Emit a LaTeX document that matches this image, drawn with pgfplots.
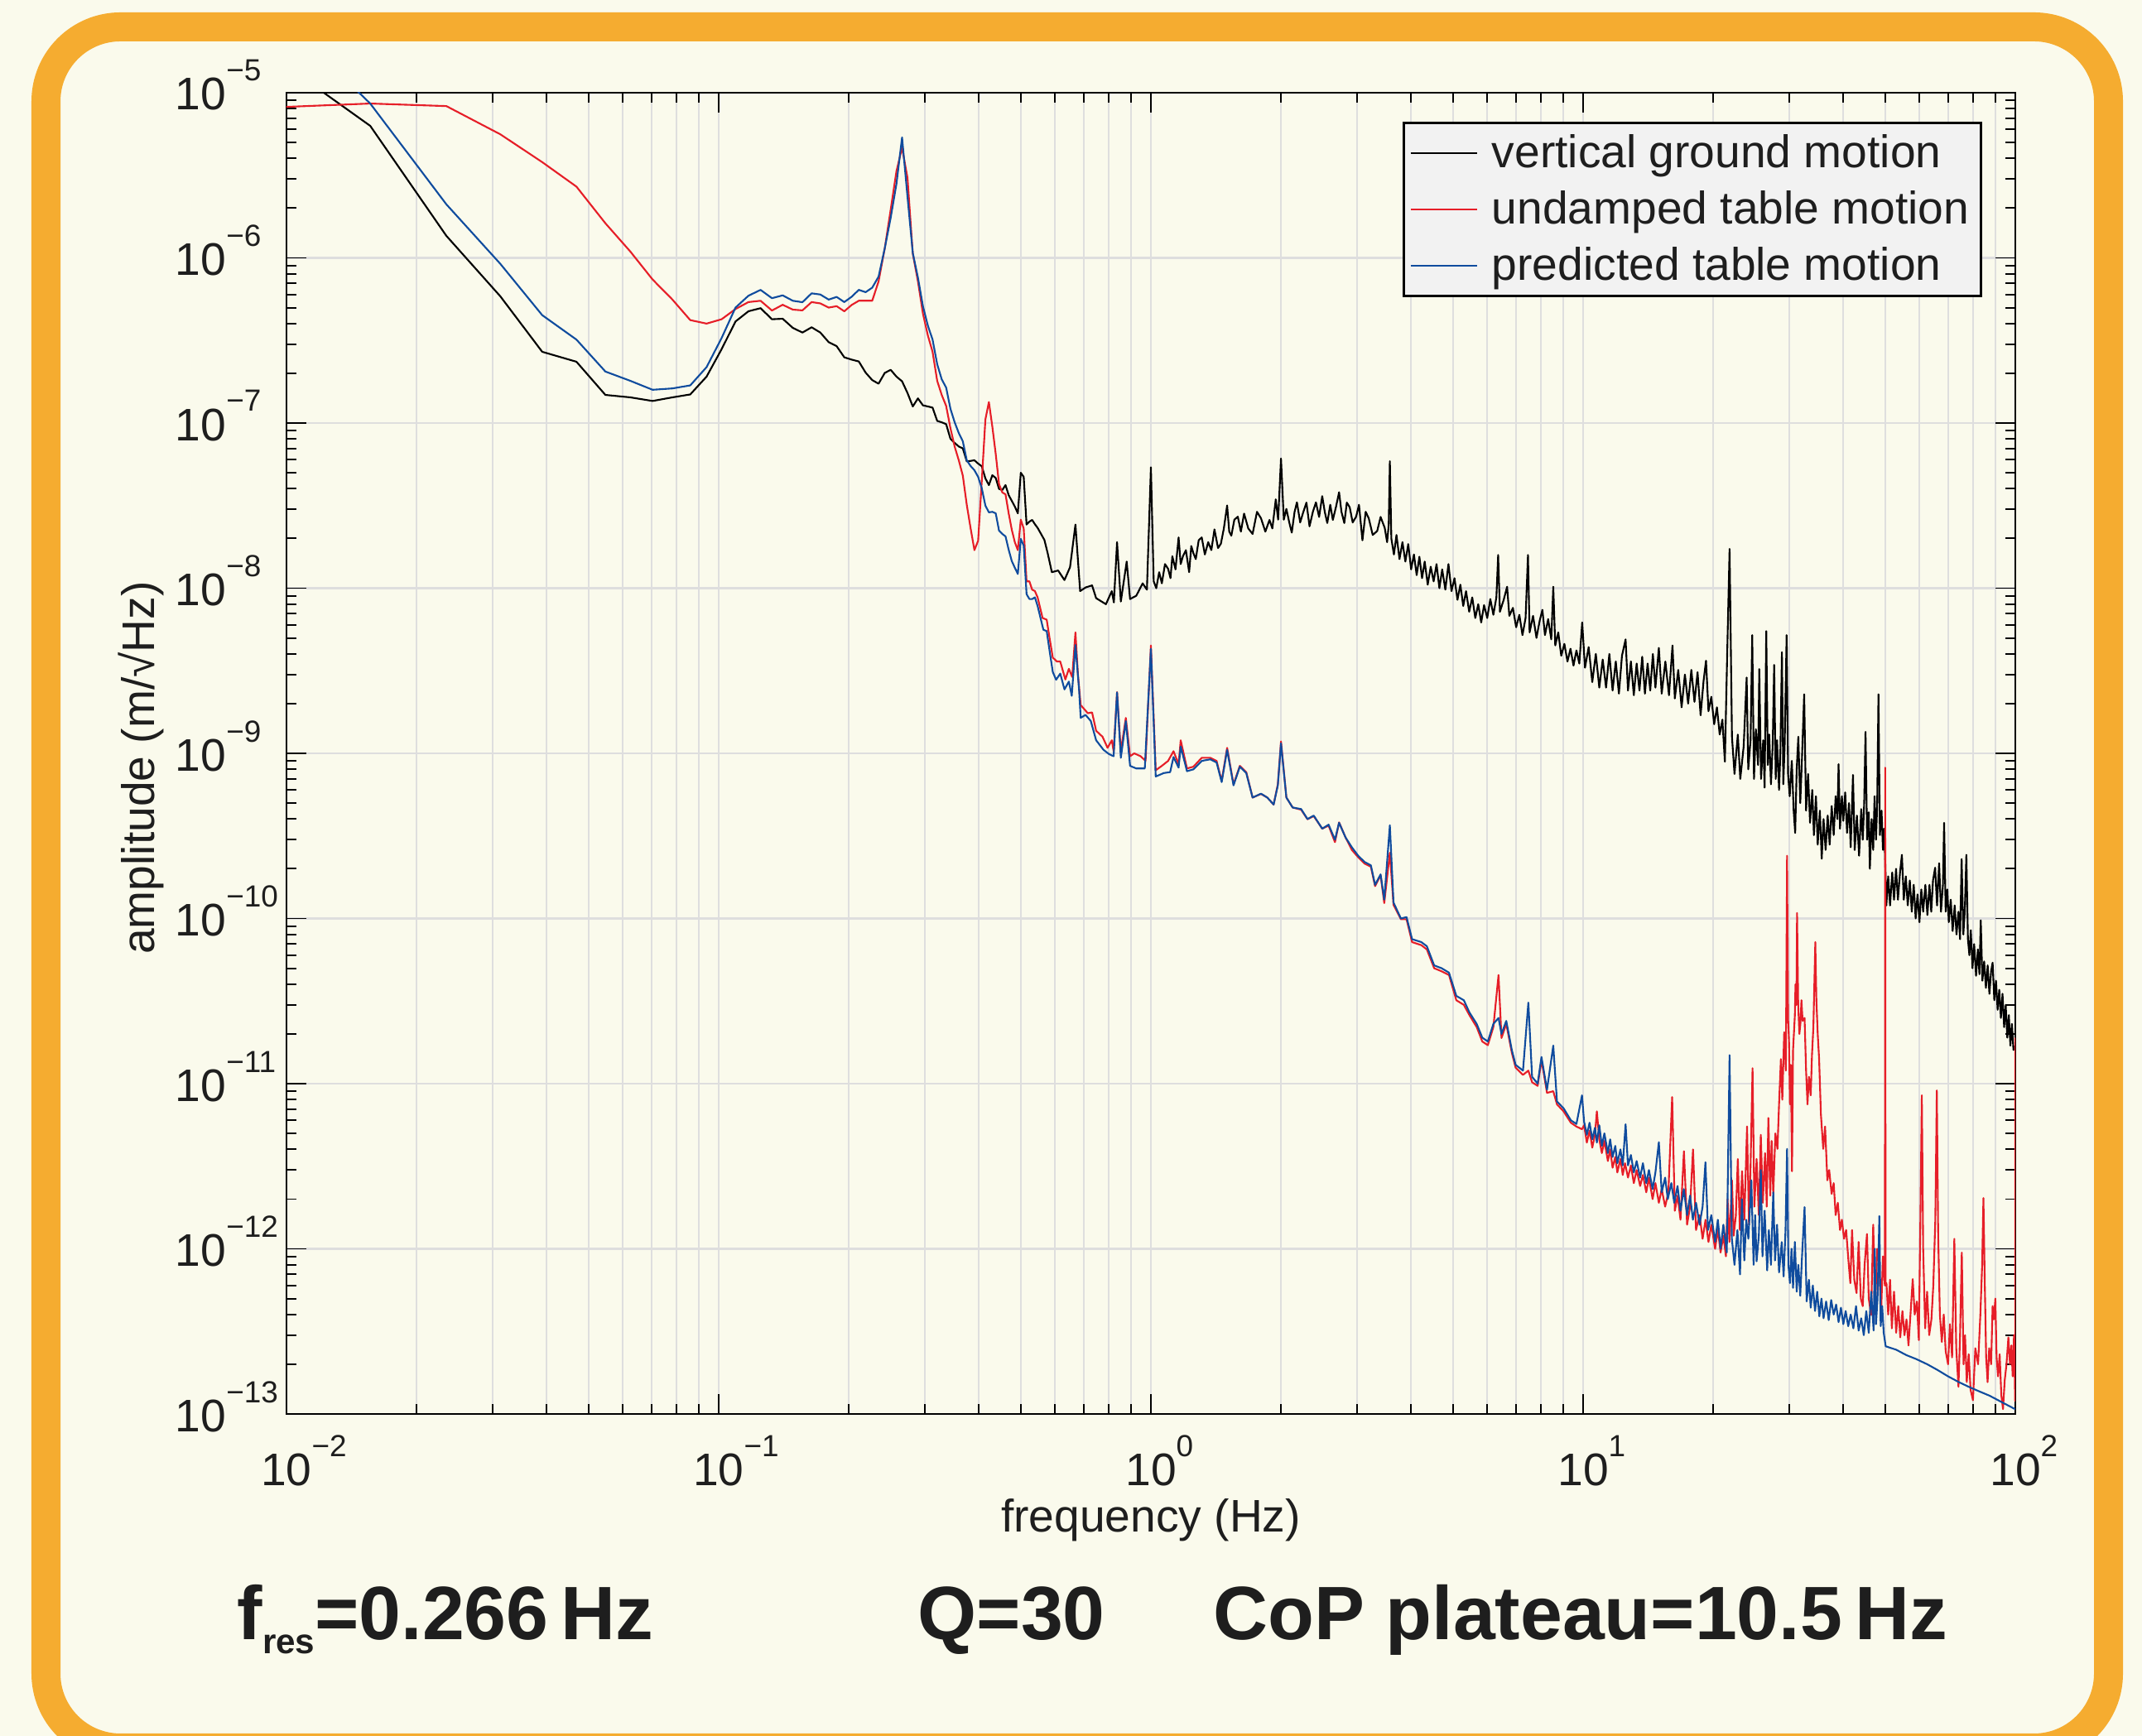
\documentclass[border=0pt]{standalone}
\usepackage{fontspec}
\setmainfont{Liberation Sans}
\usepackage{pgfplots}
\usepackage{pgfplotstable}
\pgfplotsset{compat=1.18}

\definecolor{bgcream}{RGB}{250,250,236}
\definecolor{frameorange}{RGB}{245,172,48}
\definecolor{gridgray}{RGB}{222,222,222}
\definecolor{legfill}{RGB}{242,242,242}
\definecolor{txt}{RGB}{30,30,30}
\definecolor{lred}{RGB}{230,30,40}
\definecolor{lblue}{RGB}{16,76,158}

\newcommand{\axfont}{\fontsize{15.7}{18}\selectfont}
\newcommand{\supfont}{\fontsize{10.5}{12}\selectfont}
\newcommand{\sx}[1]{\raisebox{0.35cm}{\supfont #1}}
\newcommand{\bigfont}{\fontsize{26}{30}\selectfont\bfseries}
\newcommand{\subfont}{\fontsize{12}{14}\selectfont\bfseries}

% vertical ground motion
\pgfplotstableread{
f A
0.0078125 2.3e-5
0.015625 6.3e-6
0.0234375 1.36e-6
0.03125 5.85e-7
0.0390625 2.70e-7
0.046875 2.35e-7
0.0546875 1.48e-7
0.0625 1.43e-7
0.0703125 1.36e-7
0.078125 1.43e-7
0.0859375 1.49e-7
0.09375 1.91e-7
0.1015625 2.80e-7
0.109375 4.12e-7
0.1171875 4.75e-7
0.125 4.96e-7
0.1328125 4.25e-7
0.140625 4.28e-7
0.1484375 3.77e-7
0.15625 3.53e-7
0.1640625 3.80e-7
0.171875 3.53e-7
0.1796875 3.09e-7
0.1875 2.92e-7
0.1953125 2.50e-7
0.203125 2.42e-7
0.2109375 2.36e-7
0.21875 2.02e-7
0.2265625 1.82e-7
0.234375 1.73e-7
0.2421875 2.01e-7
0.25 2.10e-7
0.2578125 1.91e-7
0.265625 1.79e-7
0.2734375 1.52e-7
0.28125 1.26e-7
0.2890625 1.41e-7
0.296875 1.28e-7
0.3046875 1.26e-7
0.3125 1.24e-7
0.3203125 1.03e-7
0.328125 1.01e-7
0.3359375 9.85e-8
0.34375 8.03e-8
0.3515625 7.58e-8
0.359375 7.21e-8
0.3671875 7.02e-8
0.375 5.86e-8
0.3828125 5.90e-8
0.390625 5.95e-8
0.3984375 5.68e-8
0.40625 5.47e-8
0.4140625 4.62e-8
0.421875 4.21e-8
0.4296875 4.83e-8
0.4375 4.65e-8
0.4453125 3.99e-8
0.453125 3.93e-8
0.4609375 4.21e-8
0.46875 3.66e-8
0.4765625 3.38e-8
0.484375 3.12e-8
0.4921875 2.84e-8
0.5 5.00e-8
0.5078125 4.72e-8
0.515625 2.43e-8
0.5234375 2.53e-8
0.53125 2.59e-8
0.5390625 2.44e-8
0.546875 2.32e-8
0.567 1.96e-8
0.577 1.63e-8
0.590 1.25e-8
0.610 1.28e-8
0.631 1.12e-8
0.650 1.34e-8
0.669 2.43e-8
0.686 9.6e-9
0.706 1.01e-8
0.731 1.04e-8
0.747 8.7e-9
0.787 8.0e-9
0.812 9.6e-9
0.821 8.2e-9
0.835 1.90e-8
0.852 8.3e-9
0.879 1.45e-8
0.895 8.6e-9
0.925 9.0e-9
0.957 1.07e-8
0.979 9.8e-9
1.0 5.4e-8
1.015 1.1e-8
1.029 1.0e-8
1.045 1.25e-8
1.06 1.07e-8
1.078 1.4e-8
1.096 1.31e-8
1.11 1.15e-8
1.121 1.56e-8
1.14 1.3e-8
1.159 2.03e-8
1.172 1.4e-8
1.186 1.56e-8
1.205 1.7e-8
1.226 1.25e-8
1.24 1.8e-8
1.254 1.63e-8
1.27 1.5e-8
1.29 1.95e-8
1.311 2.03e-8
1.333 1.6e-8
1.357 1.90e-8
1.38 1.7e-8
1.403 2.27e-8
1.43 1.75e-8
1.452 1.86e-8
1.475 2.3e-8
1.501 3.17e-8
1.518 2.2e-8
1.535 2.08e-8
1.56 2.6e-8
1.589 2.71e-8
1.615 2.2e-8
1.643 2.83e-8
1.68 2.3e-8
1.719 2.13e-8
1.76 2.9e-8
1.798 2.65e-8
1.84 2.2e-8
1.881 2.59e-8
1.91 2.3e-8
1.945 3.45e-8
1.97 2.6e-8
2.0 6.1e-8
2.03 2.6e-8
2.058 3.02e-8
2.09 2.5e-8
2.118 2.17e-8
2.15 2.9e-8
2.177 3.31e-8
2.215 2.5e-8
2.252 2.89e-8
2.29 3.3e-8
2.328 2.37e-8
2.37 2.9e-8
2.409 3.31e-8
2.45 2.7e-8
2.491 3.61e-8
2.525 2.9e-8
2.559 2.48e-8
2.6 3.2e-8
2.636 2.59e-8
2.68 3.1e-8
2.725 3.81e-8
2.76 2.9e-8
2.802 2.48e-8
2.84 3.3e-8
2.884 3.09e-8
2.93 2.5e-8
2.984 2.71e-8
3.03 3.2e-8
3.086 1.95e-8
3.14 2.9e-8
3.192 2.65e-8
3.26 2.1e-8
3.339 2.22e-8
3.40 2.7e-8
3.475 2.32e-8
3.52 1.9e-8
3.55 2.4e-8
3.572 5.87e-8
3.60 2.0e-8
3.65 1.6e-8
3.70 2.1e-8
3.76 1.5e-8
3.82 1.9e-8
3.88 1.45e-8
3.94 1.85e-8
4.00 1.3e-8
4.06 1.6e-8
4.12 1.2e-8
4.18 1.55e-8
4.24 1.15e-8
4.30 1.45e-8
4.37 1.05e-8
4.44 1.35e-8
4.51 1.1e-8
4.58 1.4e-8
4.65 1.0e-8
4.72 1.3e-8
4.80 9.8e-9
4.88 1.4e-8
4.96 9.6e-9
5.04 1.15e-8
5.12 8.5e-9
5.20 1.05e-8
5.28 7.8e-9
5.36 9.6e-9
5.45 7.2e-9
5.54 8.8e-9
5.63 6.6e-9
5.72 8.0e-9
5.81 6.2e-9
5.90 7.9e-9
6.00 6.6e-9
6.10 8.6e-9
6.20 6.9e-9
6.30 8.8e-9
6.36 1.59e-8
6.42 7.2e-9
6.55 8.5e-9
6.67 1.02e-8
6.75 6.8e-9
6.88 7.6e-9
7.00 5.8e-9
7.12 6.9e-9
7.24 5.2e-9
7.36 6.6e-9
7.455 1.59e-8
7.52 5.4e-9
7.66 6.8e-9
7.80 5.0e-9
7.94 6.4e-9
8.05 7.4e-9
8.16 5.2e-9
8.30 6.5e-9
8.44 4.9e-9
8.53 1.02e-8
8.62 4.5e-9
8.76 5.4e-9
8.90 3.9e-9
9.05 4.6e-9
9.20 3.6e-9
9.35 4.3e-9
9.50 3.4e-9
9.65 4.2e-9
9.80 3.5e-9
9.95 6.2e-9
10.1 3.3e-9
10.3 4.4e-9
10.5 2.7e-9
10.7 4.0e-9
10.9 2.5e-9
11.1 3.7e-9
11.3 2.5e-9
11.5 4.0e-9
11.7 2.4e-9
11.9 3.6e-9
12.1 2.3e-9
12.3 3.9e-9
12.54 4.9e-9
12.7 2.4e-9
12.9 3.6e-9
13.1 2.25e-9
13.3 3.5e-9
13.5 2.4e-9
13.7 3.85e-9
13.9 2.3e-9
14.1 3.5e-9
14.3 2.4e-9
14.5 4.0e-9
14.7 2.5e-9
14.97 4.35e-9
15.2 2.3e-9
15.5 3.6e-9
15.8 2.25e-9
16.1 4.5e-9
16.3 2.15e-9
16.6 3.2e-9
16.9 1.9e-9
17.2 3.0e-9
17.5 2.0e-9
17.8 3.2e-9
18.1 2.05e-9
18.4 3.1e-9
18.7 1.7e-9
19.0 2.75e-9
19.25 3.64e-9
19.5 1.8e-9
19.8 2.2e-9
20.1 1.5e-9
20.4 1.9e-9
20.7 1.3e-9
21.0 1.6e-9
21.28 8.9e-10
21.54 3.86e-9
21.82 1.73e-8
22.1 1.26e-9
22.4 7.5e-10
22.8 1.3e-9
23.1 7.0e-10
23.52 1.1e-9
23.9 2.88e-9
24.1 8.0e-10
24.4 1.2e-9
24.62 5.2e-9
24.85 7.0e-10
25.1 1.4e-9
25.4 8.5e-10
25.56 3.24e-9
25.8 7.0e-10
26.1 1.2e-9
26.3 6.2e-10
26.53 5.5e-9
26.75 8.5e-10
26.95 1.3e-9
27.2 6.5e-10
27.45 1.1e-9
27.67 3.43e-9
27.9 7.0e-10
28.1 1.2e-9
28.4 6.0e-10
28.6 1.0e-9
28.84 4.1e-9
29.05 6.5e-10
29.26 1.1e-9
29.57 5.2e-9
29.8 7.5e-10
30.06 5.5e-10
30.4 9.0e-10
30.7 4.5e-10
30.95 3.3e-10
31.2 8.0e-10
31.47 1.26e-9
31.8 5.0e-10
32.1 9.5e-10
32.47 2.28e-9
32.8 4.5e-10
33.15 7.5e-10
33.5 3.8e-10
33.9 6.0e-10
34.2 3.2e-10
34.57 5.5e-10
34.9 2.8e-10
35.3 4.5e-10
35.65 2.3e-10
36.0 4.0e-10
36.4 2.6e-10
36.8 4.2e-10
37.19 2.8e-10
37.6 4.8e-10
38.0 3.2e-10
38.4 5.5e-10
38.75 4.0e-10
39.0 8.6e-10
39.3 3.5e-10
39.7 5.5e-10
40.0 3.9e-10
40.4 5.8e-10
40.8 3.3e-10
41.23 5.0e-10
41.6 2.7e-10
42.11 7.4e-10
42.5 2.6e-10
43.0 4.2e-10
43.5 2.4e-10
44.0 4.6e-10
44.37 3.0e-10
44.7 5.0e-10
45.02 1.35e-9
45.4 3.0e-10
45.8 4.4e-10
46.07 2.0e-10
46.5 4.0e-10
46.9 2.6e-10
47.24 5.5e-10
47.6 3.0e-10
47.9 4.8e-10
48.23 2.28e-9
48.6 3.2e-10
49.03 4.5e-10
49.4 2.6e-10
49.74 3.5e-10
50.0 2.2e-10
50.3 1.2e-10
50.8 1.8e-10
51.3 1.2e-10
51.9 1.9e-10
52.4 1.3e-10
52.97 2.0e-10
53.5 1.3e-10
54.1 1.9e-10
54.65 2.43e-10
55.2 1.3e-10
55.8 1.8e-10
56.38 1.2e-10
57.0 1.7e-10
57.6 1.1e-10
58.2 1.6e-10
58.8 1.0e-10
59.39 1.4e-10
60.0 9.5e-11
60.6 1.5e-10
61.2 1.1e-10
61.92 1.6e-10
62.6 1.05e-10
63.3 1.6e-10
63.89 1.1e-10
64.5 1.7e-10
65.23 2.03e-10
65.9 1.2e-10
66.63 2.16e-10
67.3 1.1e-10
68.0 1.6e-10
68.43 3.8e-10
69.0 1.1e-10
69.6 1.5e-10
70.15 9.5e-11
70.9 1.3e-10
71.61 8.4e-11
72.4 1.2e-10
73.1 8.0e-11
73.88 1.1e-10
74.5 7.5e-11
75.13 2.29e-10
75.8 8.0e-11
76.4 1.1e-10
77.04 2.43e-10
77.7 7.5e-11
78.3 6.0e-11
78.9 8.5e-11
79.6 5.0e-11
80.3 7.0e-11
81.12 4.5e-11
81.9 6.5e-11
82.6 4.6e-11
83.18 9.75e-11
83.9 4.2e-11
84.7 5.5e-11
85.5 3.8e-11
86.3 5.2e-11
87.1 3.5e-11
87.9 4.8e-11
88.6 5.4e-11
89.4 3.2e-11
90.2 4.2e-11
91.0 2.8e-11
91.8 3.7e-11
92.6 2.5e-11
93.4 3.5e-11
94.2 2.2e-11
95.0 3.0e-11
95.8 1.9e-11
96.6 2.6e-11
97.4 1.7e-11
98.2 2.3e-11
99.0 1.6e-11
100 1.7e-11
}\grounddata

% undamped table motion
\pgfplotstableread{
f A
0.0078125 8.0e-6
0.015625 8.6e-6
0.0234375 8.3e-6
0.03125 5.6e-6
0.0390625 3.8e-6
0.046875 2.7e-6
0.0546875 1.62e-6
0.0625 1.09e-6
0.0703125 7.4e-7
0.078125 5.6e-7
0.0859375 4.2e-7
0.09375 4.0e-7
0.1015625 4.25e-7
0.109375 4.9e-7
0.1171875 5.4e-7
0.125 5.5e-7
0.1328125 4.8e-7
0.140625 5.2e-7
0.1484375 4.86e-7
0.15625 4.81e-7
0.1640625 5.4e-7
0.171875 5.3e-7
0.1796875 5.0e-7
0.1875 5.1e-7
0.1953125 4.75e-7
0.203125 5.19e-7
0.2109375 5.5e-7
0.21875 5.5e-7
0.2265625 5.5e-7
0.234375 7.2e-7
0.2421875 1.14e-6
0.25 1.96e-6
0.2578125 3.35e-6
0.265625 4.65e-6
0.2734375 3.05e-6
0.28125 1.06e-6
0.2890625 7.2e-7
0.296875 4.6e-7
0.3046875 3.4e-7
0.3125 2.7e-7
0.3203125 1.80e-7
0.328125 1.48e-7
0.3359375 1.27e-7
0.34375 9.3e-8
0.3515625 7.2e-8
0.359375 5.95e-8
0.3671875 4.8e-8
0.375 3.2e-8
0.3828125 2.3e-8
0.390625 1.7e-8
0.3984375 1.94e-8
0.40625 4.5e-8
0.4140625 1.05e-7
0.421875 1.34e-7
0.4296875 9.5e-8
0.4375 6.5e-8
0.4453125 4.26e-8
0.453125 3.8e-8
0.4609375 3.7e-8
0.46875 2.84e-8
0.4765625 2.26e-8
0.484375 1.9e-8
0.4921875 1.7e-8
0.5 2.6e-8
0.5078125 2.3e-8
0.515625 1.1e-8
0.5234375 1.1e-8
0.53125 9.8e-9
0.5390625 9.6e-9
0.546875 8.8e-9
0.5616 6.6e-9
0.574 6.45e-9
0.5835 4.9e-9
0.593 3.8e-9
0.606 3.6e-9
0.617 3.6e-9
0.634 2.8e-9
0.646 3.25e-9
0.6575 2.9e-9
0.669 5.4e-9
0.678 3.0e-9
0.688 1.96e-9
0.699 1.87e-9
0.7145 1.75e-9
0.731 1.77e-9
0.747 1.37e-9
0.773 1.26e-9
0.794 1.08e-9
0.812 1.2e-9
0.820 1.03e-9
0.835 2.35e-9
0.852 1.03e-9
0.875 1.64e-9
0.895 9.6e-10
0.915 1.0e-9
0.947 9.6e-10
0.972 9.0e-10
1.0 4.5e-9
1.026 7.9e-10
1.06 8.4e-10
1.096 9.0e-10
1.128 1.03e-9
1.159 8.6e-10
1.172 1.2e-9
1.212 8.1e-10
1.254 8.3e-10
1.311 9.4e-10
1.372 9.4e-10
1.419 9.0e-10
1.458 6.8e-10
1.501 1.08e-9
1.553 6.5e-10
1.606 8.4e-10
1.662 7.7e-10
1.719 5.4e-10
1.798 5.68e-10
1.859 5.4e-10
1.923 4.9e-10
1.967 6.5e-10
2.0 1.18e-9
2.058 5.4e-10
2.128 4.7e-10
2.226 4.56e-10
2.303 3.99e-10
2.381 4.17e-10
2.491 3.5e-10
2.577 3.65e-10
2.666 2.9e-10
2.725 3.82e-10
2.82 3.1e-10
2.917 2.6e-10
3.017 2.35e-10
3.121 2.15e-10
3.228 2.06e-10
3.301 1.57e-10
3.40 1.83e-10
3.467 1.24e-10
3.572 2.5e-10
3.642 1.21e-10
3.789 9.9e-11
3.904 9.9e-11
4.02 7.2e-11
4.223 6.9e-11
4.349 6.5e-11
4.523 5.0e-11
4.706 4.79e-11
4.894 4.55e-11
5.089 3.2e-11
5.297 3.0e-11
5.457 2.6e-11
5.673 2.2e-11
5.844 1.8e-11
6.019 1.71e-11
6.2 2.2e-11
6.372 4.55e-11
6.474 1.89e-11
6.641 2.3e-11
6.84 1.54e-11
6.98 1.25e-11
7.26 1.13e-11
7.47 1.2e-11
7.62 1.02e-11
7.85 9.7e-12
8.01 1.39e-11
8.25 8.8e-12
8.53 9.0e-12
8.70 7.5e-12
9.01 6.8e-12
9.37 5.8e-12
9.65 5.5e-12
9.94 5.3e-12
10.05 5.6e-12
10.2 4.4e-12
10.35 5.2e-12
10.5 4.1e-12
10.65 4.9e-12
10.76 6.8e-12
10.9 4.6e-12
11.05 3.8e-12
11.2 4.5e-12
11.41 3.4e-12
11.55 4.0e-12
11.7 3.1e-12
11.87 3.6e-12
12.0 2.9e-12
12.2 3.5e-12
12.35 2.8e-12
12.5 3.3e-12
12.7 2.7e-12
12.9 3.2e-12
13.1 2.5e-12
13.3 3.0e-12
13.55 2.4e-12
13.75 2.8e-12
14.0 2.2e-12
14.2 2.7e-12
14.48 2.0e-12
14.7 2.5e-12
14.97 1.9e-12
15.2 2.3e-12
15.48 1.8e-12
15.75 2.2e-12
16.07 8.3e-12
16.3 1.7e-12
16.54 2.1e-12
16.8 1.5e-12
17.11 3.9e-12
17.4 1.4e-12
17.68 1.8e-12
17.96 4.0e-12
18.25 1.3e-12
18.6 1.6e-12
18.9 1.15e-12
19.2 1.5e-12
19.5 1.1e-12
19.8 1.4e-12
20.2 1.0e-12
20.5 1.3e-12
20.8 9.5e-13
21.11 1.2e-12
21.4 9.0e-13
21.59 2.0e-12
21.8 1.1e-12
22.1 2.6e-12
22.3 1.2e-12
22.56 1.58e-12
22.8 3.5e-12
23.05 1.3e-12
23.32 2.95e-12
23.6 1.5e-12
23.95 5.51e-12
24.2 1.4e-12
24.39 3.0e-12
24.66 1.24e-11
24.9 1.8e-12
25.2 3.5e-12
25.5 1.6e-12
25.77 4.9e-12
26.05 1.9e-12
26.36 3.8e-12
26.6 1.8e-12
26.83 6.2e-12
27.1 2.1e-12
27.3 4.5e-12
27.54 2.15e-12
27.85 5.0e-12
28.16 4.03e-12
28.4 7.5e-12
28.68 1.41e-11
28.9 8.0e-12
29.19 2.05e-11
29.45 1.2e-11
29.64 2.4e-10
29.8 2.5e-11
29.95 1.8e-11
30.1 7.5e-12
30.25 1.3e-11
30.43 2.95e-12
30.6 1.6e-11
30.9 2.6e-11
31.0 4.0e-11
31.15 3.0e-11
31.26 1.08e-10
31.45 3.0e-11
31.65 2.0e-11
31.82 2.3e-11
32.0 3.2e-11
32.2 2.4e-11
32.54 2.5e-11
32.8 1.2e-11
33.05 7.5e-12
33.3 1.1e-11
33.62 8.5e-12
33.85 1.5e-11
34.1 2.2e-11
34.45 7.2e-11
34.65 3.2e-11
34.9 2.0e-11
35.16 1.41e-11
35.5 6.5e-12
35.94 4.03e-12
36.3 5.5e-12
36.74 2.6e-12
37.1 3.0e-12
37.58 2.15e-12
38.0 2.5e-12
38.4 1.6e-12
38.85 1.9e-12
39.3 1.3e-12
39.7 1.5e-12
40.15 1.15e-12
40.6 1.3e-12
41.1 8.5e-13
41.52 6.2e-13
41.9 1.3e-12
42.4 6.5e-13
42.92 5.4e-13
43.4 1.1e-12
43.9 5.0e-13
44.36 4.5e-13
44.8 8.0e-13
45.37 1.23e-12
45.8 5.0e-13
46.38 3.98e-13
46.9 1.4e-12
47.4 4.5e-13
47.9 1.0e-12
48.46 7.9e-13
48.9 4.0e-13
49.4 9.0e-13
49.9 6.0e-13
50.0 8.2e-10
50.1 6.0e-13
50.33 6.2e-13
50.8 4.0e-13
51.3 6.5e-13
51.8 3.3e-13
52.4 5.5e-13
53.0 3.1e-13
53.6 4.5e-13
54.17 2.91e-13
54.8 4.2e-13
55.4 3.0e-13
56.0 3.74e-13
56.6 2.6e-13
57.2 4.0e-13
57.89 6.56e-13
58.5 4.0e-13
59.19 4.8e-13
59.8 2.8e-13
60.3 1.5e-12
60.77 8.5e-12
61.2 1.0e-12
61.86 3.3e-13
62.5 5.5e-13
63.2 3.0e-13
63.95 3.74e-13
64.6 6.0e-13
65.3 1.5e-12
65.82 9.1e-12
66.3 1.2e-12
66.9 4.0e-13
67.59 2.73e-13
68.3 4.0e-13
69.0 2.4e-13
69.88 2.0e-13
70.6 3.5e-13
71.4 2.2e-13
72.26 1.15e-12
73.0 2.5e-13
73.87 1.46e-13
74.5 3.0e-13
75.19 9.5e-13
75.9 2.0e-13
76.5 3.0e-13
77.21 1.56e-13
78.0 2.3e-13
78.8 1.4e-13
79.81 1.21e-13
80.8 2.5e-13
82.0 2.0e-13
83.0 4.0e-13
83.8 8.0e-13
84.37 2.03e-12
85.0 6.0e-13
85.6 2.2e-13
86.27 1.56e-13
87.0 2.5e-13
87.9 2.0e-13
88.6 4.5e-13
89.17 3.74e-13
89.9 5.0e-13
90.5 2.2e-13
91.2 1.69e-13
92.0 2.3e-13
92.8 1.3e-13
93.65 1.07e-13
94.5 1.6e-13
95.4 2.0e-13
96.36 2.91e-13
97.2 2.0e-13
97.9 2.6e-13
98.6 1.69e-13
99.3 3.0e-13
99.9 1.2e-13
100 1.9e-11
}\undampeddata

% predicted table motion
\pgfplotstableread{
f A
0.0078125 5.0e-5
0.015625 8.6e-6
0.0234375 2.11e-6
0.03125 9.2e-7
0.0390625 4.5e-7
0.046875 3.2e-7
0.0546875 2.05e-7
0.0625 1.80e-7
0.0703125 1.59e-7
0.078125 1.62e-7
0.0859375 1.69e-7
0.09375 2.18e-7
0.1015625 3.27e-7
0.109375 5.0e-7
0.1171875 5.9e-7
0.125 6.4e-7
0.1328125 5.7e-7
0.140625 5.93e-7
0.1484375 5.5e-7
0.15625 5.39e-7
0.1640625 6.1e-7
0.171875 6.0e-7
0.1796875 5.59e-7
0.1875 5.8e-7
0.1953125 5.4e-7
0.203125 5.82e-7
0.2109375 6.4e-7
0.21875 6.2e-7
0.2265625 6.6e-7
0.234375 7.7e-7
0.2421875 1.14e-6
0.25 1.75e-6
0.2578125 2.81e-6
0.265625 5.36e-6
0.2734375 2.34e-6
0.28125 1.07e-6
0.2890625 7.6e-7
0.296875 5.1e-7
0.3046875 3.9e-7
0.3125 3.2e-7
0.3203125 2.27e-7
0.328125 1.84e-7
0.3359375 1.64e-7
0.34375 1.22e-7
0.3515625 1.01e-7
0.359375 8.7e-8
0.3671875 7.75e-8
0.375 5.95e-8
0.3828125 5.49e-8
0.390625 5.18e-8
0.3984375 4.72e-8
0.40625 4.02e-8
0.4140625 3.16e-8
0.421875 2.88e-8
0.4296875 2.9e-8
0.4375 2.84e-8
0.4453125 2.23e-8
0.453125 2.13e-8
0.4609375 2.06e-8
0.46875 1.71e-8
0.4765625 1.46e-8
0.484375 1.33e-8
0.4921875 1.22e-8
0.5 1.99e-8
0.5078125 1.81e-8
0.515625 9.2e-9
0.5234375 8.6e-9
0.53125 8.6e-9
0.5390625 8.8e-9
0.546875 7.8e-9
0.564 5.6e-9
0.574 5.5e-9
0.5835 4.1e-9
0.593 3.11e-9
0.6035 2.79e-9
0.617 3.04e-9
0.631 2.44e-9
0.646 2.72e-9
0.656 2.23e-9
0.669 4.53e-9
0.682 2.44e-9
0.688 1.64e-9
0.706 1.71e-9
0.726 1.57e-9
0.747 1.2e-9
0.777 1.05e-9
0.80 9.9e-10
0.820 9.6e-10
0.835 2.34e-9
0.852 9.4e-10
0.875 1.57e-9
0.895 8.4e-10
0.925 8.1e-10
0.968 8.1e-10
1.0 4.3e-9
1.026 7.24e-10
1.071 7.6e-10
1.108 7.7e-10
1.128 9.5e-10
1.159 8.2e-10
1.172 1.1e-9
1.212 7.8e-10
1.254 8.0e-10
1.311 9.0e-10
1.372 9.2e-10
1.419 8.8e-10
1.458 6.7e-10
1.501 1.05e-9
1.553 6.4e-10
1.606 8.3e-10
1.662 7.6e-10
1.719 5.4e-10
1.798 5.7e-10
1.859 5.4e-10
1.923 4.9e-10
1.967 6.4e-10
2.0 1.15e-9
2.058 5.4e-10
2.128 4.7e-10
2.226 4.6e-10
2.303 4.0e-10
2.381 4.2e-10
2.491 3.5e-10
2.577 3.7e-10
2.666 3.0e-10
2.725 3.8e-10
2.82 3.1e-10
2.917 2.7e-10
3.017 2.4e-10
3.121 2.2e-10
3.228 2.1e-10
3.301 1.6e-10
3.40 1.85e-10
3.467 1.3e-10
3.572 3.67e-10
3.642 1.25e-10
3.789 1.0e-10
3.904 1.02e-10
4.02 7.5e-11
4.223 7.2e-11
4.349 6.8e-11
4.523 5.2e-11
4.706 5.0e-11
4.894 4.7e-11
5.089 3.4e-11
5.297 3.2e-11
5.457 2.7e-11
5.673 2.3e-11
5.844 1.9e-11
6.019 1.8e-11
6.2 2.3e-11
6.372 2.5e-11
6.474 2.0e-11
6.641 2.4e-11
6.84 1.6e-11
6.98 1.3e-11
7.26 1.2e-11
7.47 3.1e-11
7.62 1.1e-11
7.85 1.0e-11
8.01 1.45e-11
8.25 9.2e-12
8.53 1.7e-11
8.70 7.8e-12
9.01 7.1e-12
9.37 6.0e-12
9.65 5.7e-12
9.94 8.5e-12
10.05 5.9e-12
10.2 4.9e-12
10.35 5.8e-12
10.5 4.6e-12
10.65 5.4e-12
10.76 4.4e-12
10.9 5.6e-12
11.05 4.2e-12
11.2 5.0e-12
11.41 3.8e-12
11.55 4.6e-12
11.7 3.6e-12
11.87 4.2e-12
12.0 3.3e-12
12.2 4.0e-12
12.35 3.2e-12
12.54 5.68e-12
12.7 3.2e-12
12.9 3.7e-12
13.1 2.9e-12
13.3 3.4e-12
13.55 2.7e-12
13.75 3.3e-12
14.0 2.5e-12
14.2 3.0e-12
14.48 2.3e-12
14.7 2.9e-12
14.97 4.42e-12
15.2 2.2e-12
15.48 2.7e-12
15.7 2.0e-12
16.0 2.5e-12
16.25 1.9e-12
16.54 2.4e-12
16.8 1.7e-12
17.1 2.3e-12
17.4 1.6e-12
17.68 2.1e-12
17.95 1.5e-12
18.25 1.9e-12
18.6 1.4e-12
18.9 1.8e-12
19.19 3.34e-12
19.45 1.3e-12
19.8 1.6e-12
20.2 1.1e-12
20.5 1.5e-12
20.8 1.0e-12
21.11 1.4e-12
21.5 9.5e-13
21.82 1.49e-11
22.08 1.16e-12
22.4 8.0e-13
22.75 1.3e-12
23.07 7.0e-13
23.3 2.0e-12
23.6 8.5e-13
23.85 1.5e-12
24.12 1.15e-12
24.5 2.6e-12
24.8 8.0e-13
25.0 1.6e-12
25.2 8.4e-13
25.5 1.2e-12
25.77 3.0e-12
26.0 9.0e-13
26.3 1.7e-12
26.66 7.4e-13
26.9 1.3e-12
27.2 8.0e-13
27.54 2.2e-12
27.8 8.5e-13
28.1 1.4e-12
28.4 7.2e-13
28.81 1.1e-12
29.1 6.8e-13
29.4 1.3e-12
29.64 4.03e-12
29.85 8.0e-13
30.1 6.2e-13
30.35 1.0e-12
30.6 5.8e-13
30.9 1.1e-12
31.2 5.5e-13
31.47 8.0e-13
31.8 5.2e-13
32.1 9.0e-13
32.54 1.79e-12
32.9 4.8e-13
33.3 6.5e-13
33.62 4.4e-13
34.0 6.0e-13
34.4 4.2e-13
34.8 5.5e-13
35.2 3.9e-13
35.6 5.0e-13
36.0 3.8e-13
36.5 4.8e-13
37.0 3.7e-13
37.5 4.9e-13
38.0 4.0e-13
38.5 4.6e-13
39.0 3.6e-13
39.5 4.4e-13
40.0 3.5e-13
40.5 4.2e-13
41.05 3.4e-13
41.6 4.0e-13
42.2 3.3e-13
42.8 4.5e-13
43.4 3.2e-13
44.0 3.8e-13
44.6 3.0e-13
45.2 4.2e-13
45.8 3.1e-13
46.4 5.5e-13
47.0 3.2e-13
47.3 1.0e-12
47.6 3.5e-13
48.0 5.0e-13
48.46 1.58e-12
48.8 3.4e-13
49.2 4.5e-13
49.6 3.1e-13
50.12 2.57e-13
53.0 2.45e-13
56.0 2.27e-13
59.0 2.15e-13
62.55 2.0e-13
66.0 1.85e-13
69.88 1.69e-13
74.0 1.56e-13
78.06 1.46e-13
82.0 1.38e-13
87.2 1.29e-13
93.0 1.18e-13
99.2 1.08e-13
100 1.07e-13
}\predicteddata

\begin{document}
\begin{tikzpicture}
\fill[bgcream] (0,0) rectangle (25.87,20.97);
\begin{scope}
  \clip (0,0) rectangle (25.87,20.97);
  \draw[frameorange, line width=0.35cm, rounded corners=0.9cm]
    (0.555,-0.145) rectangle (25.465,20.645);
\end{scope}

\begin{axis}[
  at={(3.46cm,3.89cm)}, anchor=south west,
  scale only axis, width=20.88cm, height=15.96cm,
  xmode=log, ymode=log,
  xmin=0.01, xmax=100, ymin=1e-13, ymax=1e-5,
  axis background/.style={fill=bgcream},
  xtick={0.01,0.1,1,10,100},
  xticklabels={10\rlap{\sx{−2}},10\rlap{\sx{−1}},10\rlap{\sx{0}},10\rlap{\sx{1}},10\rlap{\sx{2}}},
  minor xtick={0.02,0.03,0.04,0.05,0.06,0.07,0.08,0.09,
               0.2,0.3,0.4,0.5,0.6,0.7,0.8,0.9,
               2,3,4,5,6,7,8,9,20,30,40,50,60,70,80,90},
  ytick={1e-13,1e-12,1e-11,1e-10,1e-9,1e-8,1e-7,1e-6,1e-5},
  yticklabels={10\rlap{\sx{−13}},10\rlap{\sx{−12}},10\rlap{\sx{−11}},10\rlap{\sx{−10}},10\rlap{\sx{−9}},10\rlap{\sx{−8}},10\rlap{\sx{−7}},10\rlap{\sx{−6}},10\rlap{\sx{−5}}},
  minor ytick={2e-13,3e-13,4e-13,5e-13,6e-13,7e-13,8e-13,9e-13,
               2e-12,3e-12,4e-12,5e-12,6e-12,7e-12,8e-12,9e-12,
               2e-11,3e-11,4e-11,5e-11,6e-11,7e-11,8e-11,9e-11,
               2e-10,3e-10,4e-10,5e-10,6e-10,7e-10,8e-10,9e-10,
               2e-9,3e-9,4e-9,5e-9,6e-9,7e-9,8e-9,9e-9,
               2e-8,3e-8,4e-8,5e-8,6e-8,7e-8,8e-8,9e-8,
               2e-7,3e-7,4e-7,5e-7,6e-7,7e-7,8e-7,9e-7,
               2e-6,3e-6,4e-6,5e-6,6e-6,7e-6,8e-6,9e-6},
  xmajorgrids, xminorgrids, ymajorgrids,
  grid style={gridgray, line width=0.6pt},
  minor grid style={gridgray, line width=0.6pt},
  major tick length=0.24cm, minor tick length=0.12cm,
  tick style={black, line width=0.55pt},
  axis line style={black, line width=0.6pt},
  xticklabel style={font=\axfont, text=txt, inner sep=0pt, anchor=base, yshift=-0.86cm},
  yticklabel style={font=\axfont, text=txt, inner sep=0pt, anchor=base east, xshift=-0.72cm, yshift=-0.21cm},
  xlabel={frequency (Hz)},
  xlabel style={font=\axfont, text=txt, inner sep=0pt, at={(axis description cs:0.5,-0.089)}, anchor=base},
  ylabel={amplitude (m/√Hz)},
  ylabel style={font=\axfont, text=txt, inner sep=0pt, at={(axis description cs:-0.0766,0.489)}, anchor=base},
  legend style={at={(axis description cs:0.9808,0.978)}, anchor=north east,
    draw=black, line width=0.8pt, fill=legfill, font=\axfont, text=txt,
    inner xsep=0.07cm, inner ysep=0.07cm, row sep=0.085cm, column sep=0.1cm},
  legend cell align=left,
  legend image code/.code={\draw[#1, line width=0.6pt] (0cm,0cm) -- (0.8cm,0cm);},
  every axis plot/.append style={line width=0.6pt, line join=round},
]
\addplot[black] table {\grounddata};
\addplot[lred] table {\undampeddata};
\addplot[lblue] table {\predicteddata};
\legend{vertical ground motion, undamped table motion, predicted table motion}
\end{axis}

\node[anchor=base west, inner sep=0pt, text=txt, font=\bigfont] at (2.86,1.16)
  {f\raisebox{-0.17cm}{\subfont res}=0.266\,Hz};
\node[anchor=base west, inner sep=0pt, text=txt, font=\bigfont] at (11.08,1.16) {Q=30};
\node[anchor=base west, inner sep=0pt, text=txt, font=\bigfont] at (14.65,1.16)
  {CoP plateau=10.5\,Hz};

\pgfresetboundingbox
\path[use as bounding box] (0,0) rectangle (25.87,20.97);
\end{tikzpicture}
\end{document}
